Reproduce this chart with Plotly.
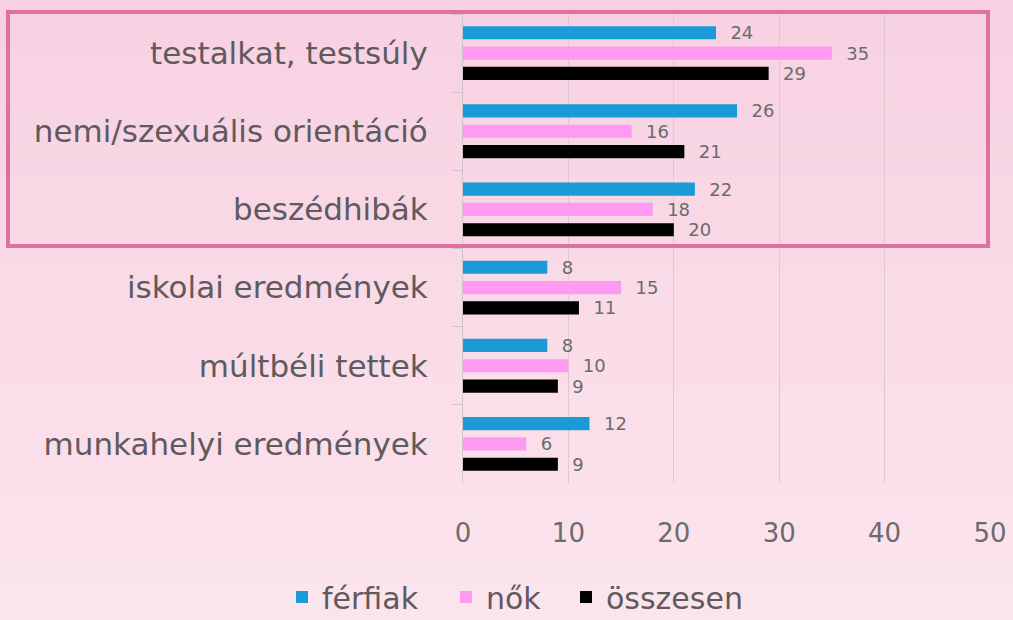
import plotly.graph_objects as go

categories = ["testalkat, testsúly", "nemi/szexuális orientáció", "beszédhibák",
              "iskolai eredmények", "múltbéli tettek", "munkahelyi eredmények"]
ferfiak = [24, 26, 22, 8, 8, 12]
nok = [35, 16, 18, 15, 10, 6]
osszesen = [29, 21, 20, 11, 9, 9]
x_ticks = [0, 10, 20, 30, 40, 50]

series = [("férfiak", ferfiak, "#1a9bd7", "legend"),
          ("nők", nok, "#ff9af3", "legend2"),
          ("összesen", osszesen, "#000000", "legend3")]

FONT = "DejaVu Sans"
fig = go.Figure()
for name, vals, col, leg in series:
    fig.add_trace(go.Bar(
        y=categories, x=vals, name=name, orientation="h", legend=leg,
        marker=dict(color=col, line=dict(width=0)),
        text=vals, texttemplate="\u00a0\u00a0%{x}", textposition="outside", constraintext="none",
        textfont=dict(size=18, color="#6b6b6b", family=FONT),
        cliponaxis=False,
    ))

# background gradient (paper)
shapes = []
n = 40
top = (247, 208, 225)
bot = (252, 230, 238)
for i in range(n):
    t = i / (n - 1)
    c = tuple(round(top[k] + (bot[k] - top[k]) * t) for k in range(3))
    shapes.append(dict(type="rect", xref="paper", yref="paper", layer="below",
                       x0=-1, x1=2, y0=1.1 - (i + 1) * (1.5 / n), y1=1.1 - i * (1.5 / n) + 0.001,
                       fillcolor="rgb(%d,%d,%d)" % c, line=dict(width=0)))
# highlight rectangle
shapes.append(dict(type="rect", xref="paper", yref="paper", layer="above",
                   x0=(8 - 463) / 527, x1=(988 - 463) / 527,
                   y0=(483 - 246) / 469, y1=(483 - 12) / 469,
                   line=dict(color="#e0709f", width=4), fillcolor="rgba(0,0,0,0)"))

def leg(xpix):
    return dict(orientation="h", x=xpix / 1013, xanchor="left", xref="container",
                y=1 - 597 / 620, yanchor="middle", yref="container",
                font=dict(size=30, color="#5f5a5d", family=FONT),
                itemwidth=30, bgcolor="rgba(0,0,0,0)")

fig.update_layout(
    width=1013, height=620,
    margin=dict(l=463, r=23, t=14, b=137, autoexpand=False),
    paper_bgcolor="#fadbe7", plot_bgcolor="rgba(0,0,0,0)",
    barmode="group", bargap=0.22, bargroupgap=0.35,
    font=dict(family=FONT, color="#5f5a5d"),
    shapes=shapes,
    showlegend=True,
    legend=leg(282), legend2=leg(446), legend3=leg(566),
    xaxis=dict(range=[0, 50], tickvals=x_ticks, showgrid=True, gridcolor="#dccad2", gridwidth=1,
               zeroline=False, showline=False, ticks="", tickfont=dict(size=26, color="#6b6b6b"),
               ticklabelstandoff=32, automargin=False),
    yaxis=dict(autorange="reversed", tickson="boundaries", ticks="outside", ticklen=10,
               tickcolor="#cfc4c8", showline=True, linecolor="#cfc4c8", linewidth=1,
               tickfont=dict(size=31, color="#5f5a5d"), ticklabelstandoff=28, showgrid=False,
               automargin=False),
)

fig.write_html("out.html", config={"displayModeBar": False},
               post_script="document.body.style.margin='0';document.body.style.overflow='hidden';")
